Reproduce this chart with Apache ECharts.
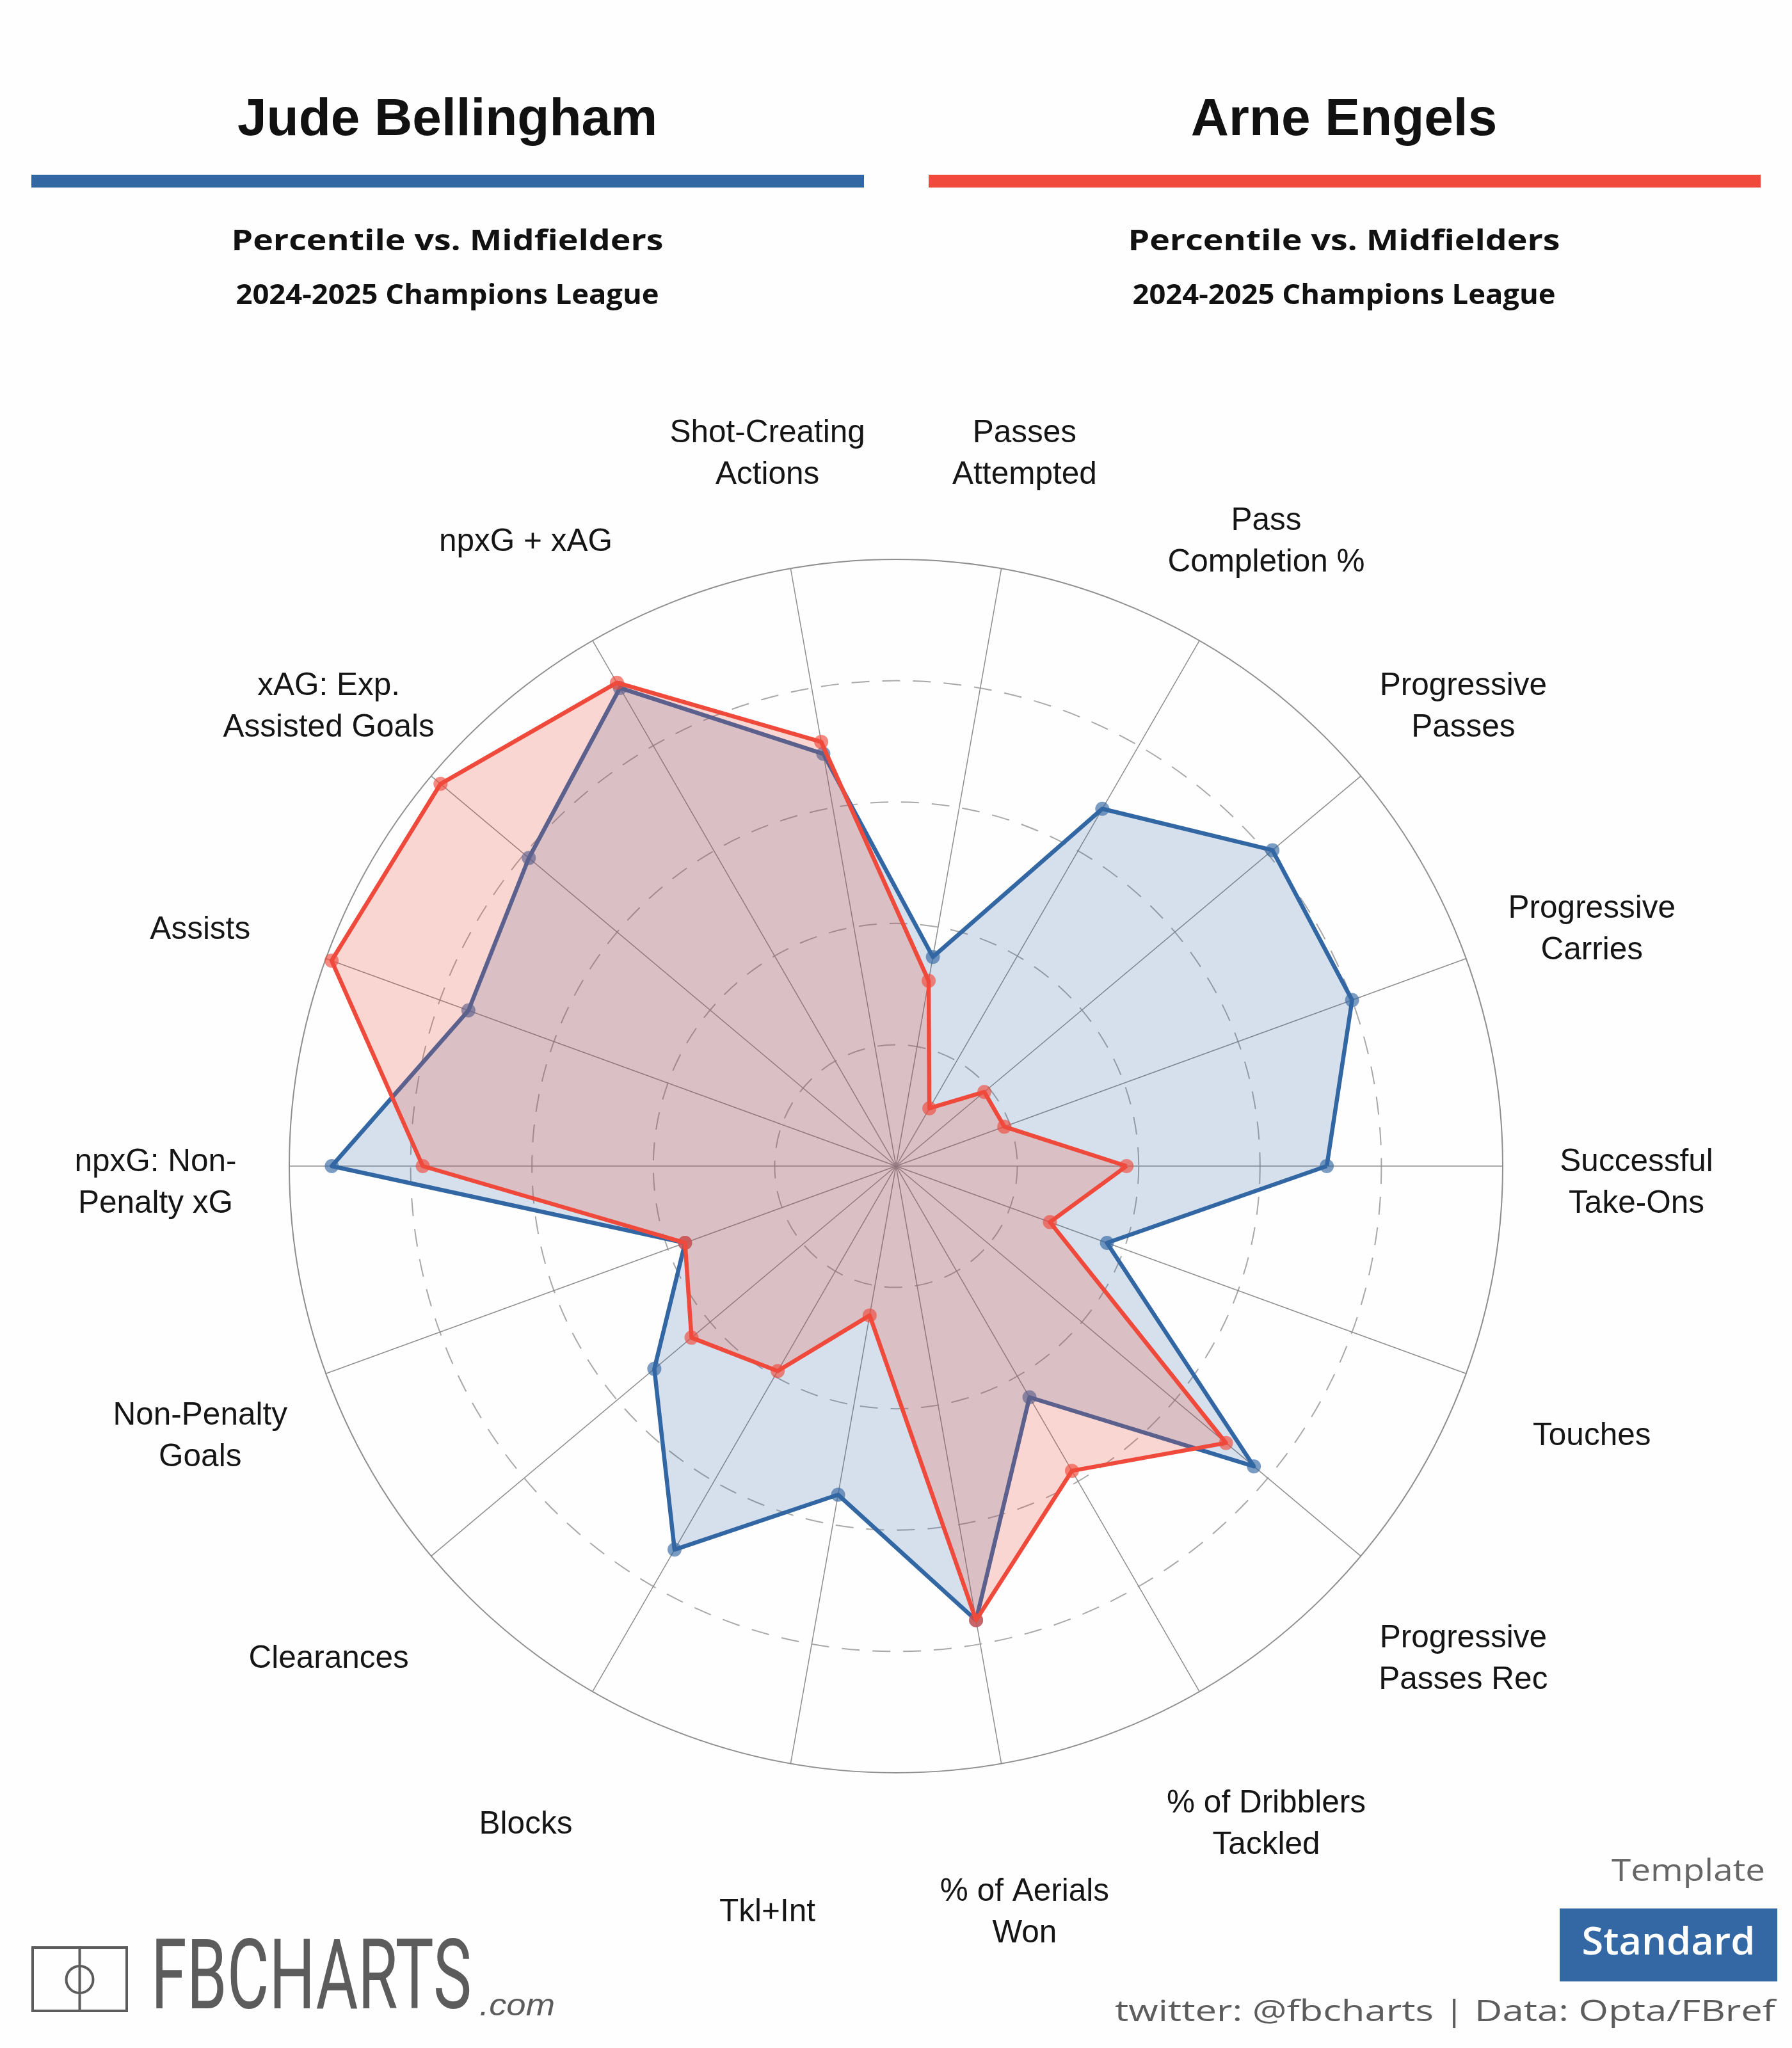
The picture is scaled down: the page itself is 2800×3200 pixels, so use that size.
<!DOCTYPE html>
<html>
<head>
<meta charset="utf-8">
<script src="https://cdn.jsdelivr.net/npm/echarts@6/dist/echarts.min.js"></script>
<style>
html,body{margin:0;padding:0;background:#fefefe;}
#c{width:2800px;height:3200px;}
</style>
</head>
<body>
<div id="c"></div>
<script>
// ---- DATA (indicators listed counter-clockwise starting at 3 o'clock) ----
const CATEGORIES = [
  'Successful\nTake-Ons', 'Progressive\nCarries', 'Progressive\nPasses', 'Pass\nCompletion %',
  'Passes\nAttempted', 'Shot-Creating\nActions', 'npxG + xAG', 'xAG: Exp.\nAssisted Goals',
  'Assists', 'npxG: Non-\nPenalty xG', 'Non-Penalty\nGoals', 'Clearances', 'Blocks',
  'Tkl+Int', '% of Aerials\nWon', '% of Dribblers\nTackled', 'Progressive\nPasses Rec', 'Touches'
];
const BELLINGHAM = [71, 80, 81, 68, 35, 69, 91, 79, 75, 93, 37, 52, 73, 55, 76, 44, 77, 37];
const ENGELS     = [38, 19, 19, 11, 31, 71, 92, 98, 99, 78, 37, 44, 39, 25, 76, 58, 71, 27];
const PLAYERS = ['Jude Bellingham', 'Arne Engels'];
const SUBTITLE = 'Percentile vs. Midfielders';
const COMPETITION = '2024-2025 Champions League';
const SCALE_MAX = 100;
const SPLITS = 5;

// ---- STYLE ----
const BLUE = '#3267a3', RED = '#ef4a3c';
const CX = 1400, CY = 1822, R = 948;
const LABEL_VALUE = 122.05, LABEL_DY = 27;

const chart = echarts.init(document.getElementById('c'), null, {renderer: 'canvas'});
const indicator = CATEGORIES.map(n => ({name: n, min: 0, max: SCALE_MAX}));

chart.setOption({
  animation: false,
  backgroundColor: '#fefefe',
  radar: [{
    center: [CX, CY], radius: R, startAngle: 0, splitNumber: SPLITS, shape: 'circle',
    indicator: indicator,
    axisName: {show: false},
    axisLine: {show: true, lineStyle: {color: '#8e8e8e', width: 1.5}},
    axisTick: {show: false}, axisLabel: {show: false},
    splitArea: {show: false},
    splitLine: {show: true, lineStyle: {
      color: ['#a8a8a8', '#a8a8a8', '#a8a8a8', '#a8a8a8', '#a8a8a8', 'rgba(0,0,0,0)'],
      width: 2, type: [28, 20]}}
  }, {
    center: [CX, CY], radius: R, startAngle: 0, splitNumber: 1, shape: 'circle',
    indicator: indicator,
    axisName: {show: false},
    axisLine: {show: false}, axisTick: {show: false}, axisLabel: {show: false},
    splitArea: {show: false},
    splitLine: {show: true, lineStyle: {color: '#8e8e8e', width: 2}}
  }],
  series: [{
    type: 'radar', radarIndex: 0, z: 3,
    symbol: 'circle', symbolSize: 22,
    data: [{value: BELLINGHAM, name: PLAYERS[0]}],
    lineStyle: {color: BLUE, width: 6.5},
    itemStyle: {color: BLUE, opacity: 0.65},
    areaStyle: {color: 'rgba(50,103,163,0.2)', opacity: 1}
  }, {
    type: 'radar', radarIndex: 0, z: 4,
    symbol: 'circle', symbolSize: 22,
    data: [{value: ENGELS, name: PLAYERS[1]}],
    lineStyle: {color: RED, width: 6.5},
    itemStyle: {color: RED, opacity: 0.65},
    areaStyle: {color: 'rgba(239,74,60,0.22)', opacity: 1}
  }]
});

// ---- text helpers ----
const mctx = document.createElement('canvas').getContext('2d');
function fontStr(o){ return (o.style||'normal') + ' ' + (o.weight||'normal') + ' ' + o.size + 'px ' + o.family; }
function fit(text, o, target){ mctx.font = fontStr(o); const w = mctx.measureText(text).width; return w > 0 ? target / w : 1; }
function txt(text, x, y, o){
  return {type: 'text', x: x, y: y, z: 20, scaleX: o.sx || 1, scaleY: 1,
    style: {text: text, fontSize: o.size, fontFamily: o.family, fontWeight: o.weight || 'normal',
      fontStyle: o.style || 'normal', fill: o.color || '#111', align: o.align || 'center',
      verticalAlign: 'middle', lineHeight: o.lh || o.size}};
}

const elements = [];
const COLS = [699, 2100];
const LIBB = '"Liberation Sans", Arial, sans-serif';
const OPEN = '"Open Sans", "Noto Sans", sans-serif';
PLAYERS.forEach((p, k) => {
  elements.push(txt(p, COLS[k], 188, {size: 82, weight: 'bold', family: LIBB, color: '#111'}));
  const so = {size: 45, weight: 'bold', family: OPEN, color: '#111'};
  so.sx = fit(SUBTITLE, so, 675);
  elements.push(txt(SUBTITLE, COLS[k], 378, so));
  const co = {size: 43, weight: 'bold', family: OPEN, color: '#111'};
  co.sx = fit(COMPETITION, co, 661);
  elements.push(txt(COMPETITION, COLS[k], 463, co));
});
elements.push({type: 'rect', z: 20, shape: {x: 49, y: 273, width: 1301, height: 20}, style: {fill: BLUE}});
elements.push({type: 'rect', z: 20, shape: {x: 1451, y: 273, width: 1300, height: 20}, style: {fill: RED}});

// axis labels positioned through the radar coordinate system
let rc = null;
try { rc = chart.getModel().getComponent('radar', 0).coordinateSystem; } catch (e) { rc = null; }
CATEGORIES.forEach((name, i) => {
  let p;
  if (rc && rc.dataToPoint) p = rc.dataToPoint(LABEL_VALUE, i);
  else { const a = i * 2 * Math.PI / CATEGORIES.length; const rr = R * LABEL_VALUE / SCALE_MAX; p = [CX + rr * Math.cos(a), CY - rr * Math.sin(a)]; }
  elements.push(txt(name, p[0], p[1] + LABEL_DY, {size: 49.5, family: LIBB, color: '#151515', lh: 65}));
});

// footer: logo
const GREY = '#5c5c5c';
elements.push({type: 'rect', z: 20, shape: {x: 51, y: 3043, width: 147, height: 99}, style: {fill: 'none', stroke: GREY, lineWidth: 4}});
elements.push({type: 'line', z: 20, shape: {x1: 124.5, y1: 3043, x2: 124.5, y2: 3142}, style: {stroke: GREY, lineWidth: 4}});
elements.push({type: 'circle', z: 20, shape: {cx: 124.5, cy: 3093, r: 21}, style: {fill: 'none', stroke: GREY, lineWidth: 4}});
const fbo = {size: 153, weight: 400, family: 'Roboto, "Liberation Sans", sans-serif', color: GREY, align: 'left'};
fbo.sx = fit('FBCHARTS', fbo, 501);
elements.push(txt('FBCHARTS', 236, 3100, fbo));
const como = {size: 48, style: 'italic', family: LIBB, color: GREY, align: 'left'};
como.sx = fit('.com', como, 118);
elements.push(txt('.com', 749, 3136, como));

// footer: template box and credits
const tpo = {size: 48, family: OPEN, color: '#666', align: 'right'};
tpo.sx = fit('Template', tpo, 240);
elements.push(txt('Template', 2758, 2925, tpo));
elements.push({type: 'rect', z: 20, shape: {x: 2437, y: 2982, width: 340, height: 114}, style: {fill: '#3468a4'}});
const sto = {size: 60, weight: 600, family: OPEN, color: '#ffffff'};
sto.sx = fit('Standard', sto, 271);
elements.push(txt('Standard', 2607, 3037, sto));
const CREDIT = 'twitter: @fbcharts | Data: Opta/FBref';
const cro = {size: 45, family: OPEN, color: GREY, align: 'right'};
cro.sx = fit(CREDIT, cro, 1032);
elements.push(txt(CREDIT, 2774, 3145, cro));

chart.setOption({graphic: {elements: elements}});
</script>
</body>
</html>
